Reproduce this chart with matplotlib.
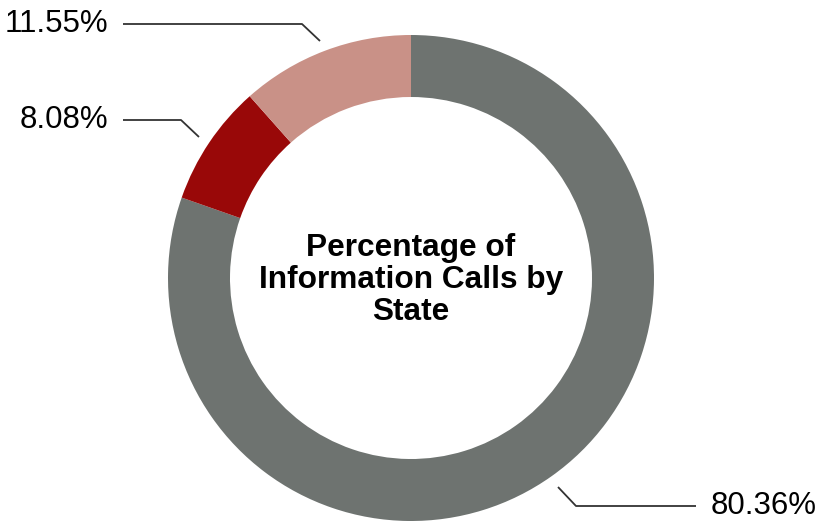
import matplotlib.pyplot as plt

# share of information calls by state
labels = ['80.36%', '8.08%', '11.55%']
shares = [80.36, 8.08, 11.55]
colors = ['#6e7370', '#990808', '#c99187']
title = 'Percentage of\nInformation Calls by\nState'

plt.rcParams['font.family'] = ['Liberation Sans', 'DejaVu Sans']

fig = plt.figure(figsize=(8.22, 5.21), dpi=100)
ax = fig.add_axes([0, 0, 1, 1])

# ring, clockwise from twelve o'clock
cx, cy, r = 411, 243, 243
ax.pie(shares, colors=colors, startangle=90, counterclock=False,
       center=(cx, cy), radius=r, frame=True,
       wedgeprops=dict(width=62, linewidth=0))
ax.set_xlim(0, 822)
ax.set_ylim(0, 521)
ax.set_aspect('equal')
ax.axis('off')

# leader lines and labels
line_kw = dict(color='#333333', lw=1.3, solid_capstyle='butt')
ax.plot([123, 302, 320], [521 - 24, 521 - 24, 521 - 41], **line_kw)
ax.text(108, 521 - 24, labels[2], ha='right', va='center', fontsize=22.5)

ax.plot([123, 181, 199], [521 - 120, 521 - 120, 521 - 137], **line_kw)
ax.text(108, 521 - 120, labels[1], ha='right', va='center', fontsize=22.5)

ax.plot([558, 576, 696], [521 - 487, 521 - 506, 521 - 506], **line_kw)
ax.text(711, 521 - 506, labels[0], ha='left', va='center', fontsize=22.5)

ax.text(cx, 521 - 280, title, ha='center', va='center', fontsize=22.8,
        fontweight='bold', linespacing=1.1)

fig.savefig('out.png', dpi=100)
